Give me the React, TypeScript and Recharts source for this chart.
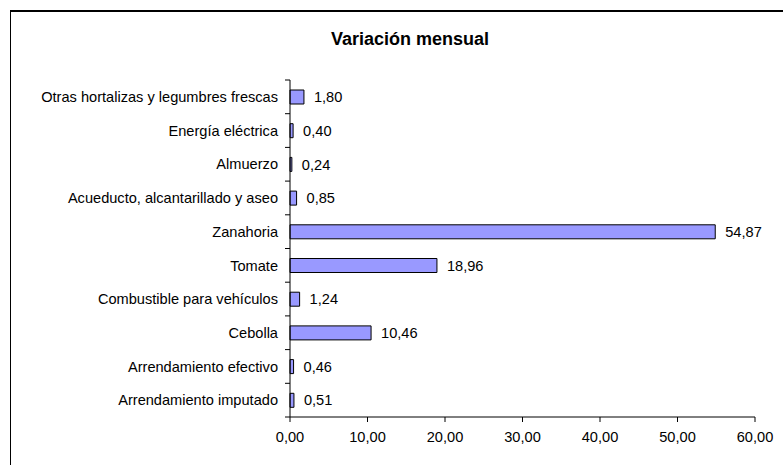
import React from "react"
import { Bar, BarChart, LabelList, XAxis, YAxis } from "recharts"

const categories = [
    "Otras hortalizas y legumbres frescas",
    "Energía eléctrica",
    "Almuerzo",
    "Acueducto, alcantarillado y aseo",
    "Zanahoria",
    "Tomate",
    "Combustible para vehículos",
    "Cebolla",
    "Arrendamiento efectivo",
    "Arrendamiento imputado",
]

const variacion = [1.8, 0.4, 0.24, 0.85, 54.87, 18.96, 1.24, 10.46, 0.46, 0.51]

const xTicks = [0, 10, 20, 30, 40, 50, 60]

const data = categories.map((name, i) => ({ name, value: variacion[i] }))

const FONT = "'Liberation Sans', Arial, sans-serif"
const fmt = (v: number) => Number(v).toFixed(2).replace(".", ",")

const TOP = 80
const BOTTOM_AXIS = 417
const BAND = (BOTTOM_AXIS - TOP) / categories.length

function CategoryTick(props: any) {
    const { y, payload, index } = props
    return (
        <g>
            <line x1={285} x2={290} y1={y - BAND / 2} y2={y - BAND / 2} stroke="#000" />
            {index === categories.length - 1 && (
                <line x1={285} x2={290} y1={y + BAND / 2} y2={y + BAND / 2} stroke="#000" />
            )}
            <text x={278} y={y} dy="0.355em" textAnchor="end" fontSize={14.6} fontFamily={FONT} fill="#000">
                {payload.value}
            </text>
        </g>
    )
}

export default function App() {
    return (
        <div style={{ position: "absolute", left: 0, top: 0, width: 783, height: 465, overflow: "hidden", background: "#fff" }}>
            <div
                style={{
                    position: "absolute",
                    left: 10,
                    top: 10,
                    width: 800,
                    height: 480,
                    borderTop: "2px solid #000",
                    borderLeft: "1px solid #000",
                }}
            />
            <div
                style={{
                    position: "absolute",
                    left: 0,
                    top: 30,
                    width: 820,
                    textAlign: "center",
                    fontFamily: FONT,
                    fontWeight: "bold",
                    fontSize: 18,
                    lineHeight: "18px",
                    color: "#000",
                }}
            >
                Variación mensual
            </div>
            <div style={{ position: "absolute", left: 0, top: 0 }}>
                <BarChart
                    width={783}
                    height={465}
                    data={data}
                    layout="vertical"
                    margin={{ top: TOP, right: 28, bottom: 18, left: 0 }}
                    barCategoryGap={0}
                >
                    <XAxis
                        type="number"
                        domain={[0, 60]}
                        ticks={xTicks}
                        tickFormatter={fmt}
                        axisLine={{ stroke: "#000" }}
                        tickLine={{ stroke: "#000" }}
                        tickSize={5}
                        tickMargin={10}
                        height={30}
                        tick={{ fontSize: 14.6, fontFamily: FONT, fill: "#000" }}
                        interval={0}
                    />
                    <YAxis
                        type="category"
                        dataKey="name"
                        width={290}
                        axisLine={{ stroke: "#000" }}
                        tickLine={false}
                        tick={<CategoryTick />}
                        interval={0}
                    />
                    <Bar dataKey="value" fill="#9999FF" stroke="#000" strokeWidth={1} barSize={14} isAnimationActive={false}>
                        <LabelList
                            dataKey="value"
                            position="right"
                            offset={10}
                            formatter={(v: any) => fmt(v)}
                            style={{ fontSize: 14.6, fontFamily: FONT, fill: "#000" }}
                        />
                    </Bar>
                </BarChart>
            </div>
        </div>
    )
}
